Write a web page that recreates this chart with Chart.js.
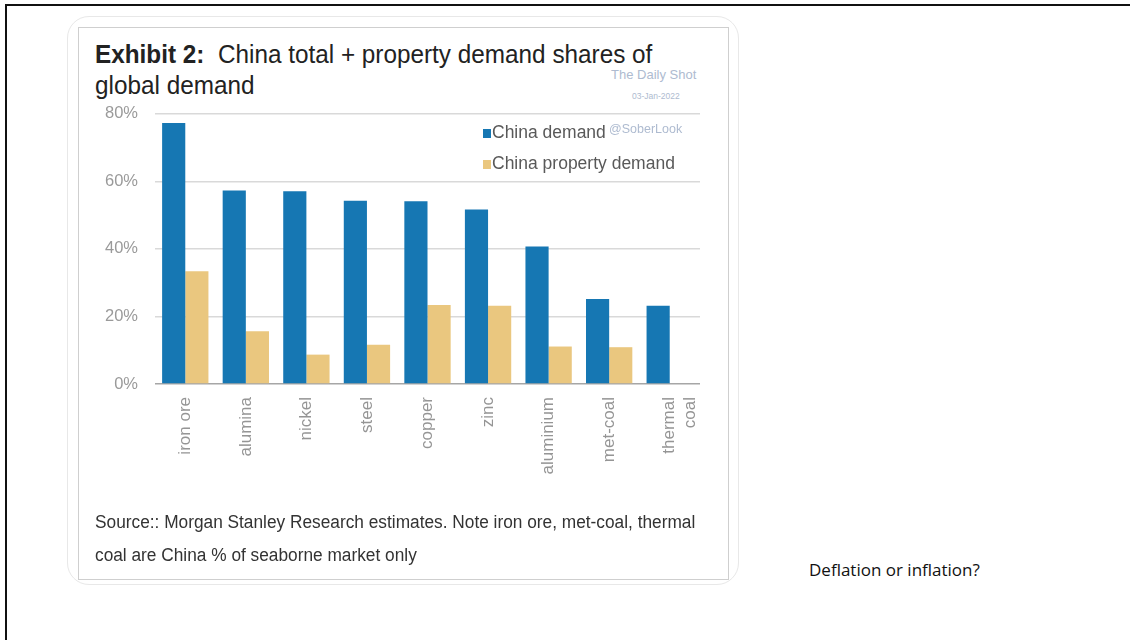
<!DOCTYPE html>
<html>
<head>
<meta charset="utf-8">
<script src="https://cdn.jsdelivr.net/npm/chart.js@4.4.1/dist/chart.umd.min.js"></script>
<style>
  html, body { margin: 0; padding: 0; background: #fff; }
  body { width: 1130px; height: 640px; position: relative; overflow: hidden; font-family: "Liberation Sans", Arial, sans-serif; }
  .frame-top { position: absolute; left: 5px; top: 4px; width: 1125px; height: 2px; background: #111; }
  .frame-left { position: absolute; left: 5px; top: 4px; width: 2px; height: 636px; background: #111; }
  .card-outer { position: absolute; left: 67px; top: 16px; width: 672px; height: 569px; border: 1.5px solid #e8e8e8; border-radius: 22px; box-sizing: border-box; }
  .card-inner { position: absolute; left: 78px; top: 27px; width: 651px; height: 553px; border: 1px solid #cfcfcf; box-sizing: border-box; }
  .title { position: absolute; left: 95px; top: 39px; font-size: 26px; line-height: 31px; color: #222; white-space: nowrap; transform: scaleX(0.935); transform-origin: 0 0; }
  .source { position: absolute; left: 95px; top: 506px; font-size: 18px; line-height: 33px; color: #333; white-space: nowrap; transform: scaleX(0.96); transform-origin: 0 0; }
  .wm { position: absolute; color: #aebbd0; white-space: nowrap; }
  .note { position: absolute; left: 809px; top: 558px; font-family: "Open Sans", "Noto Sans", sans-serif; font-size: 17px; color: #111; white-space: nowrap; }
  #chart { position: absolute; left: 80px; top: 87px; }
</style>
</head>
<body>
<div class="frame-top"></div>
<div class="frame-left"></div>
<div class="card-outer"></div>
<div class="card-inner"></div>
<div class="title"><b>Exhibit 2:</b>&nbsp; China total + property demand shares of<br>global demand</div>
<div class="wm" style="left:611px; top:67px; font-size:13px;">The Daily Shot</div>
<div class="wm" style="left:632px; top:91px; font-size:8.5px;">03-Jan-2022</div>
<canvas id="chart" width="640" height="433"></canvas>
<div class="wm" style="left:609px; top:122px; font-size:12.5px;">@SoberLook</div>
<div class="source">Source:: Morgan Stanley Research estimates. Note iron ore, met-coal, thermal<br>coal are China % of seaborne market only</div>
<div class="note">Deflation or inflation?</div>

<script>
const categories = ["iron ore", "alumina", "nickel", "steel", "copper", "zinc", "aluminium", "met-coal", ["thermal", "coal"]];
const chinaDemand = [77.3, 57.3, 57.1, 54.3, 54.1, 51.7, 40.7, 25.2, 23.2];
const propertyDemand = [33.4, 15.6, 8.7, 11.6, 23.4, 23.2, 11.1, 10.9, null];
const seriesNames = ["China demand", "China property demand"];
const yTicks = [0, 20, 40, 60, 80];

const BLUE = "#1677b3";
const GOLD = "#eac77f";

// legend sits inside the plot, top right, one item per line
const insideLegend = {
  id: "insideLegend",
  afterDraw(chart) {
    const ctx = chart.ctx;
    ctx.save();
    ctx.font = "17.5px 'Liberation Sans', Arial, sans-serif";
    ctx.textBaseline = "middle";
    chart.data.datasets.forEach((ds, i) => {
      const x = 403;
      const y = 46 + i * 31;
      ctx.fillStyle = ds.backgroundColor;
      ctx.fillRect(x, y - 4, 8, 9);
      ctx.fillStyle = "#595959";
      ctx.fillText(ds.label, x + 9, y);
    });
    ctx.restore();
  },
};

new Chart(document.getElementById("chart"), {
  type: "bar",
  data: {
    labels: categories,
    datasets: [
      { label: seriesNames[0], data: chinaDemand, backgroundColor: BLUE },
      { label: seriesNames[1], data: propertyDemand, backgroundColor: GOLD },
    ],
  },
  options: {
    responsive: false,
    animation: false,
    layout: { padding: { top: 14, right: 20, left: 0, bottom: 0 } },
    plugins: { legend: { display: false }, tooltip: { enabled: false } },
    datasets: { bar: { categoryPercentage: 0.765, barPercentage: 1.0 } },
    scales: {
      x: {
        grid: { display: false },
        border: { display: false },
        ticks: {
          minRotation: 90,
          maxRotation: 90,
          padding: 5,
          color: "#959595",
          font: { family: "'Liberation Sans', Arial, sans-serif", size: 17 },
        },
        afterFit: (axis) => { axis.height = 136; },
      },
      y: {
        min: 0,
        max: 80,
        afterBuildTicks: (axis) => { axis.ticks = yTicks.map((v) => ({ value: v })); },
        border: { display: false },
        grid: {
          drawTicks: false,
          lineWidth: 1.5,
          color: (c) => (c.tick && c.tick.value === 0 ? "#a6a6a6" : "#d9d9d9"),
        },
        ticks: {
          padding: 17,
          color: "#9a9a9a",
          font: { family: "'Liberation Sans', Arial, sans-serif", size: 16.5 },
          callback: (v) => `${v}%`,
        },
        afterFit: (axis) => { axis.width = 75; },
      },
    },
  },
  plugins: [insideLegend],
});
</script>
</body>
</html>
